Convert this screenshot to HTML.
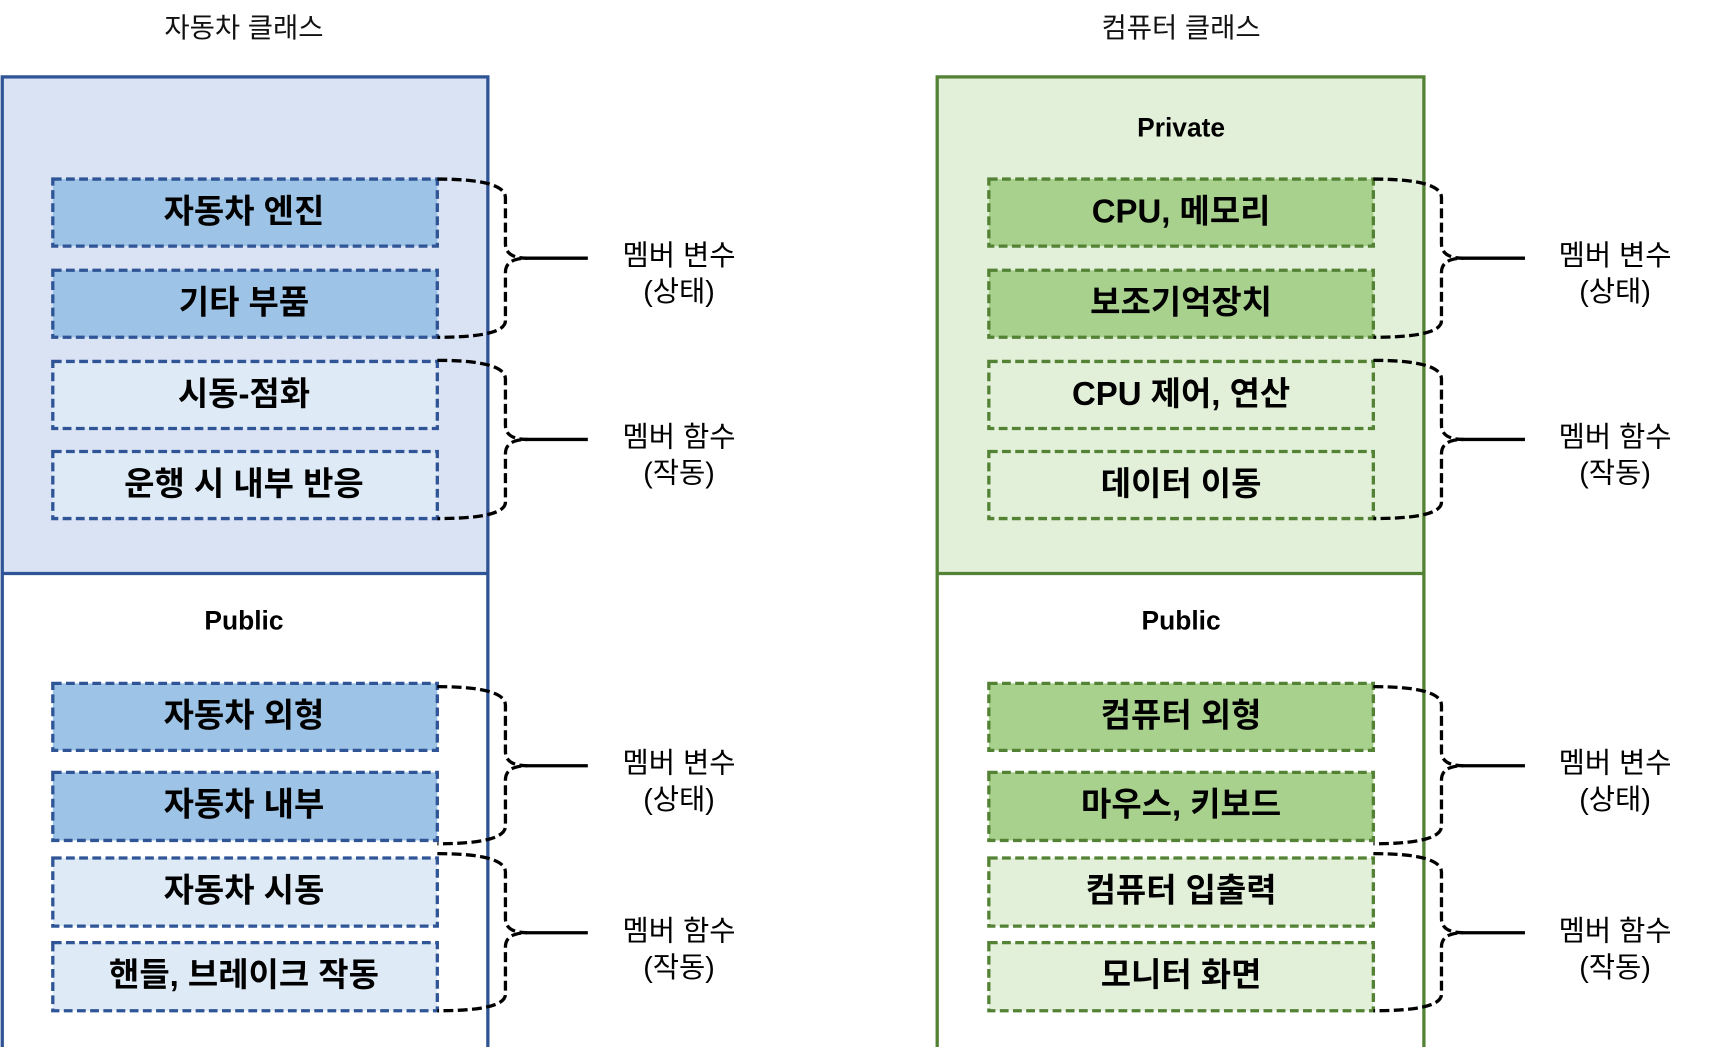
<!DOCTYPE html>
<html><head><meta charset="utf-8"><style>
html,body{margin:0;padding:0;background:#fff;}
svg{display:block;}
text{font-family:"Liberation Sans","Noto Sans CJK KR",sans-serif;}
</style></head><body>
<svg width="1714" height="1047" viewBox="0 0 1560 953" xmlns="http://www.w3.org/2000/svg">
<defs>
<g id="brace">
</g>
</defs>
<!-- titles -->
<text x="222" y="25" font-size="25" text-anchor="middle" dominant-baseline="central" fill="#111">자동차 클래스</text>
<text x="1075" y="25" font-size="25" text-anchor="middle" dominant-baseline="central" fill="#111">컴퓨터 클래스</text>

<!-- left class -->
<rect x="2" y="70" width="442" height="452" fill="#dae3f3"/>
<rect x="2" y="522" width="442" height="433" fill="#fff"/>
<rect x="2" y="70" width="442" height="885" fill="none" stroke="#2f5597" stroke-width="3"/>
<line x1="2" y1="522" x2="444" y2="522" stroke="#2f5597" stroke-width="3"/>
<text x="222" y="565" font-size="24" font-weight="bold" text-anchor="middle" dominant-baseline="central">Public</text>

<g stroke="#2f5597" stroke-width="3" stroke-dasharray="8,4">
<rect x="48" y="163" width="350" height="61" fill="#9dc3e6"/>
<rect x="48" y="246" width="350" height="61" fill="#9dc3e6"/>
<rect x="48" y="329" width="350" height="61" fill="#deebf7"/>
<rect x="48" y="411" width="350" height="61" fill="#deebf7"/>
<rect x="48" y="622" width="350" height="61" fill="#9dc3e6"/>
<rect x="48" y="703" width="350" height="62" fill="#9dc3e6"/>
<rect x="48" y="781" width="350" height="62" fill="#deebf7"/>
<rect x="48" y="858" width="350" height="62" fill="#deebf7"/>
</g>
<g font-size="30" font-weight="bold" text-anchor="middle" dominant-baseline="central" fill="#000">
<text x="222" y="192">자동차 엔진</text>
<text x="222" y="275">기타 부품</text>
<text x="222" y="358">시동-점화</text>
<text x="222" y="440">운행 시 내부 반응</text>
<text x="222" y="651">자동차 외형</text>
<text x="222" y="732">자동차 내부</text>
<text x="222" y="810">자동차 시동</text>
<text x="222" y="887">핸들, 브레이크 작동</text>
</g>

<!-- right class -->
<rect x="853" y="70" width="443" height="452" fill="#e2f0d9"/>
<rect x="853" y="522" width="443" height="433" fill="#fff"/>
<rect x="853" y="70" width="443" height="885" fill="none" stroke="#548235" stroke-width="3"/>
<line x1="853" y1="522" x2="1296" y2="522" stroke="#548235" stroke-width="3"/>
<text x="1075" y="116" font-size="24" font-weight="bold" text-anchor="middle" dominant-baseline="central">Private</text>
<text x="1075" y="565" font-size="24" font-weight="bold" text-anchor="middle" dominant-baseline="central">Public</text>

<g stroke="#548235" stroke-width="3" stroke-dasharray="8,4">
<rect x="900" y="163" width="350" height="61" fill="#a9d18e"/>
<rect x="900" y="246" width="350" height="61" fill="#a9d18e"/>
<rect x="900" y="329" width="350" height="61" fill="#e2f0d9"/>
<rect x="900" y="411" width="350" height="61" fill="#e2f0d9"/>
<rect x="900" y="622" width="350" height="61" fill="#a9d18e"/>
<rect x="900" y="703" width="350" height="62" fill="#a9d18e"/>
<rect x="900" y="781" width="350" height="62" fill="#e2f0d9"/>
<rect x="900" y="858" width="350" height="62" fill="#e2f0d9"/>
</g>
<g font-size="30" font-weight="bold" text-anchor="middle" dominant-baseline="central" fill="#000">
<text x="1075" y="192">CPU, 메모리</text>
<text x="1075" y="275">보조기억장치</text>
<text x="1075" y="358">CPU 제어, 연산</text>
<text x="1075" y="440">데이터 이동</text>
<text x="1075" y="651">컴퓨터 외형</text>
<text x="1075" y="732">마우스, 키보드</text>
<text x="1075" y="810">컴퓨터 입출력</text>
<text x="1075" y="887">모니터 화면</text>
</g>

<!-- braces -->
<g fill="none" stroke="#000" stroke-width="3" stroke-dasharray="9,4">
<path d="M398,163 Q460,163 460,180 L460,222 Q460,235 480,235 Q460,235 460,248 L460,292 Q460,307 398,307"/>
<path d="M398,328 Q460,328 460,345 L460,387 Q460,400 480,400 Q460,400 460,413 L460,457 Q460,472 398,472"/>
<path d="M398,625 Q460,625 460,642 L460,684 Q460,697 480,697 Q460,697 460,710 L460,752 Q460,768 398,768"/>
<path d="M398,777 Q460,777 460,794 L460,836 Q460,849 480,849 Q460,849 460,862 L460,905 Q460,920 398,920"/>
<path d="M1250,163 Q1312,163 1312,180 L1312,222 Q1312,235 1332,235 Q1312,235 1312,248 L1312,292 Q1312,307 1250,307"/>
<path d="M1250,328 Q1312,328 1312,345 L1312,387 Q1312,400 1332,400 Q1312,400 1312,413 L1312,457 Q1312,472 1250,472"/>
<path d="M1250,625 Q1312,625 1312,642 L1312,684 Q1312,697 1332,697 Q1312,697 1312,710 L1312,752 Q1312,768 1250,768"/>
<path d="M1250,777 Q1312,777 1312,794 L1312,836 Q1312,849 1332,849 Q1312,849 1312,862 L1312,905 Q1312,920 1250,920"/>
</g>
<g stroke="#000" stroke-width="3">
<line x1="478" y1="235" x2="535" y2="235"/>
<line x1="478" y1="400" x2="535" y2="400"/>
<line x1="478" y1="697" x2="535" y2="697"/>
<line x1="478" y1="849" x2="535" y2="849"/>
<line x1="1330" y1="235" x2="1388" y2="235"/>
<line x1="1330" y1="400" x2="1388" y2="400"/>
<line x1="1330" y1="697" x2="1388" y2="697"/>
<line x1="1330" y1="849" x2="1388" y2="849"/>
</g>

<!-- labels -->
<g font-size="26" text-anchor="middle" dominant-baseline="central" fill="#000">
<text x="618" y="233">멤버 변수</text><text x="618" y="266">(상태)</text>
<text x="618" y="398">멤버 함수</text><text x="618" y="431">(작동)</text>
<text x="618" y="695">멤버 변수</text><text x="618" y="728">(상태)</text>
<text x="618" y="848">멤버 함수</text><text x="618" y="881">(작동)</text>
<text x="1470" y="233">멤버 변수</text><text x="1470" y="266">(상태)</text>
<text x="1470" y="398">멤버 함수</text><text x="1470" y="431">(작동)</text>
<text x="1470" y="695">멤버 변수</text><text x="1470" y="728">(상태)</text>
<text x="1470" y="848">멤버 함수</text><text x="1470" y="881">(작동)</text>
</g>
</svg>
</body></html>
